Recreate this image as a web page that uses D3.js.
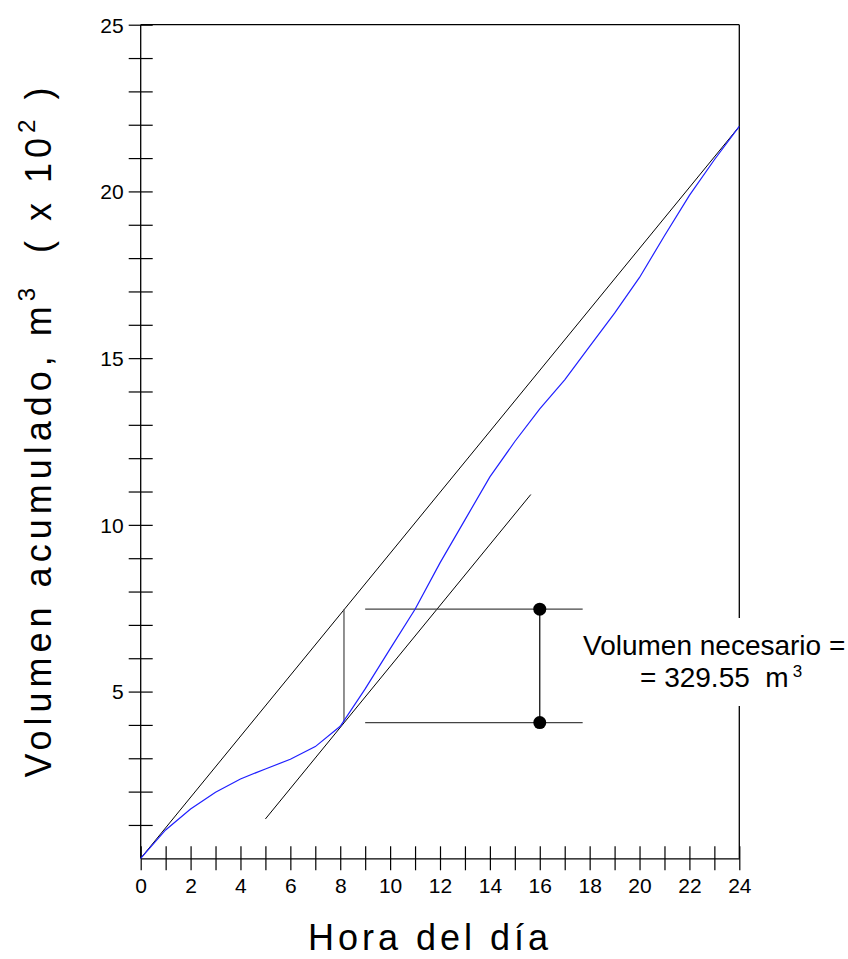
<!DOCTYPE html>
<html>
<head>
<meta charset="utf-8">
<script src="https://cdn.jsdelivr.net/npm/d3@7"></script>
<style>
  body { margin: 0; background: #fff; }
  svg { display: block; font-family: "Liberation Sans", Arial, sans-serif; }
</style>
</head>
<body>
<div id="chart"></div>
<script>
// hourly cumulative volume (x 10^2 m3)
const hours = [0, 1, 2, 3, 4, 5, 6, 7, 8, 9, 10, 11, 12, 13, 14, 15, 16, 17, 18, 19, 20, 21, 22, 23, 24];
const volume = [0, 0.85, 1.48, 1.98, 2.38, 2.68, 2.97, 3.35, 3.96, 5.08, 6.28, 7.47, 8.86, 10.15, 11.44, 12.5, 13.48, 14.35, 15.35, 16.35, 17.42, 18.67, 19.88, 20.95, 21.95];

// supply line (constant pumping) and parallel tangent
const supplyLine = [[0, 0], [24, 21.95]];
const tangentLine = [[5, 1.18], [15.64, 10.91]];
const gapLine = [[8.15, 4.07], [8.15, 7.47]];

// reference levels for the storage needed
const levels = [7.47, 4.07];
const levelStart = 9, levelEnd = 17.72, levelMarkX = 16;

const xTicks = [0, 1, 2, 3, 4, 5, 6, 7, 8, 9, 10, 11, 12, 13, 14, 15, 16, 17, 18, 19, 20, 21, 22, 23, 24];
const yTicks = [1, 2, 3, 4, 5, 6, 7, 8, 9, 10, 11, 12, 13, 14, 15, 16, 17, 18, 19, 20, 21, 22, 23, 24, 25];

const width = 848, height = 959;

var svg = d3.select('#chart')
    .append('svg')
    .attr('width', width)
    .attr('height', height);

var x = d3.scaleLinear().domain([0, 24]).range([140.7, 739.3]);
var y = d3.scaleLinear().domain([0, 25]).range([858.3, 24.7]);

// x axis
var xAxis = svg.append('g')
    .attr('transform', 'translate(0,' + y(0) + ')')
    .call(d3.axisBottom(x)
        .tickValues(xTicks)
        .tickSizeOuter(0)
        .tickFormat(d => d % 2 === 0 ? d : ''));
xAxis.select('.domain').attr('stroke', '#000').attr('stroke-width', 1.3);
xAxis.selectAll('.tick line')
    .attr('y1', -12).attr('y2', 12)
    .attr('stroke', '#000').attr('stroke-width', 1.2);
xAxis.selectAll('.tick text')
    .attr('y', 35).attr('dy', 0)
    .style('font-size', '21px')
    .attr('fill', '#000')
    .style('font-family', '"Liberation Sans", Arial, sans-serif');

// y axis
var yAxis = svg.append('g')
    .attr('transform', 'translate(' + x(0) + ',0)')
    .call(d3.axisLeft(y)
        .tickValues(yTicks)
        .tickSizeOuter(0)
        .tickFormat(d => d % 5 === 0 ? d : ''));
yAxis.select('.domain').attr('d', 'M0,' + y(0) + 'V' + y(25)).attr('stroke', '#000').attr('stroke-width', 1.3);
yAxis.selectAll('.tick line')
    .attr('x1', -12).attr('x2', 12)
    .attr('stroke', '#000').attr('stroke-width', 1.2);
yAxis.selectAll('.tick text')
    .attr('x', -17).attr('dy', '0.35em')
    .style('font-size', '21px')
    .attr('fill', '#000')
    .style('font-family', '"Liberation Sans", Arial, sans-serif');

// frame: top and right
svg.append('line')
    .attr('x1', x(0)).attr('x2', x(24))
    .attr('y1', y(25)).attr('y2', y(25))
    .attr('stroke', '#000').attr('stroke-width', 1.3);
svg.append('line')
    .attr('x1', x(24)).attr('x2', x(24))
    .attr('y1', y(25)).attr('y2', y(0))
    .attr('stroke', '#000').attr('stroke-width', 1.3);

var line = d3.line().x(d => x(d[0])).y(d => y(d[1]));

// supply line
svg.append('path').attr('d', line(supplyLine))
    .attr('fill', 'none').attr('stroke', '#000').attr('stroke-width', 1);

// tangent
svg.append('path').attr('d', line(tangentLine))
    .attr('fill', 'none').attr('stroke', '#000').attr('stroke-width', 1);

// vertical gap
svg.append('path').attr('d', line(gapLine))
    .attr('fill', 'none').attr('stroke', '#555').attr('stroke-width', 1.3);

// level lines
levels.forEach(v => {
    svg.append('line')
        .attr('x1', x(levelStart)).attr('x2', x(levelEnd))
        .attr('y1', y(v)).attr('y2', y(v))
        .attr('stroke', '#444').attr('stroke-width', 1.2);
});
svg.append('line')
    .attr('x1', x(levelMarkX)).attr('x2', x(levelMarkX))
    .attr('y1', y(levels[0])).attr('y2', y(levels[1]))
    .attr('stroke', '#000').attr('stroke-width', 1.2);
svg.selectAll('circle.mark')
    .data(levels)
    .enter()
    .append('circle')
    .attr('class', 'mark')
    .attr('cx', x(levelMarkX))
    .attr('cy', d => y(d))
    .attr('r', 6.5)
    .attr('fill', '#000');

// cumulative demand curve
svg.append('path')
    .attr('d', line(hours.map((h, i) => [h, volume[i]])))
    .attr('fill', 'none').attr('stroke', '#1f1fff').attr('stroke-width', 1.2);

// annotation (with white box that cuts the frame)
svg.append('rect')
    .attr('x', 585).attr('y', 618).attr('width', 263).attr('height', 88)
    .attr('fill', '#fff');
svg.append('text')
    .attr('x', 583).attr('y', 655)
    .style('font-size', '28px')
    .text('Volumen necesario =');
var t2 = svg.append('text')
    .attr('x', 640).attr('y', 687)
    .style('font-size', '28px')
    .style('white-space', 'pre');
t2.append('tspan').text('= 329.55  m');
t2.append('tspan').text('3').attr('dy', -10).attr('dx', 4).style('font-size', '17px');

// axis titles
svg.append('text')
    .attr('x', 430).attr('y', 950)
    .attr('text-anchor', 'middle')
    .style('font-size', '36px')
    .style('letter-spacing', '4px')
    .text('Hora del día');

var yt = svg.append('text')
    .attr('transform', 'translate(51,430) rotate(-90)')
    .attr('text-anchor', 'middle')
    .style('font-size', '36px')
    .style('letter-spacing', '5px')
    .style('white-space', 'pre');
yt.append('tspan').text('Volumen acumulado, m');
yt.append('tspan').text('3').attr('dy', -16).style('font-size', '24px');
yt.append('tspan').text('  ( x 10').attr('dy', 16);
yt.append('tspan').text('2').attr('dy', -16).style('font-size', '24px');
yt.append('tspan').text(' )').attr('dy', 16);
</script>
</body>
</html>
